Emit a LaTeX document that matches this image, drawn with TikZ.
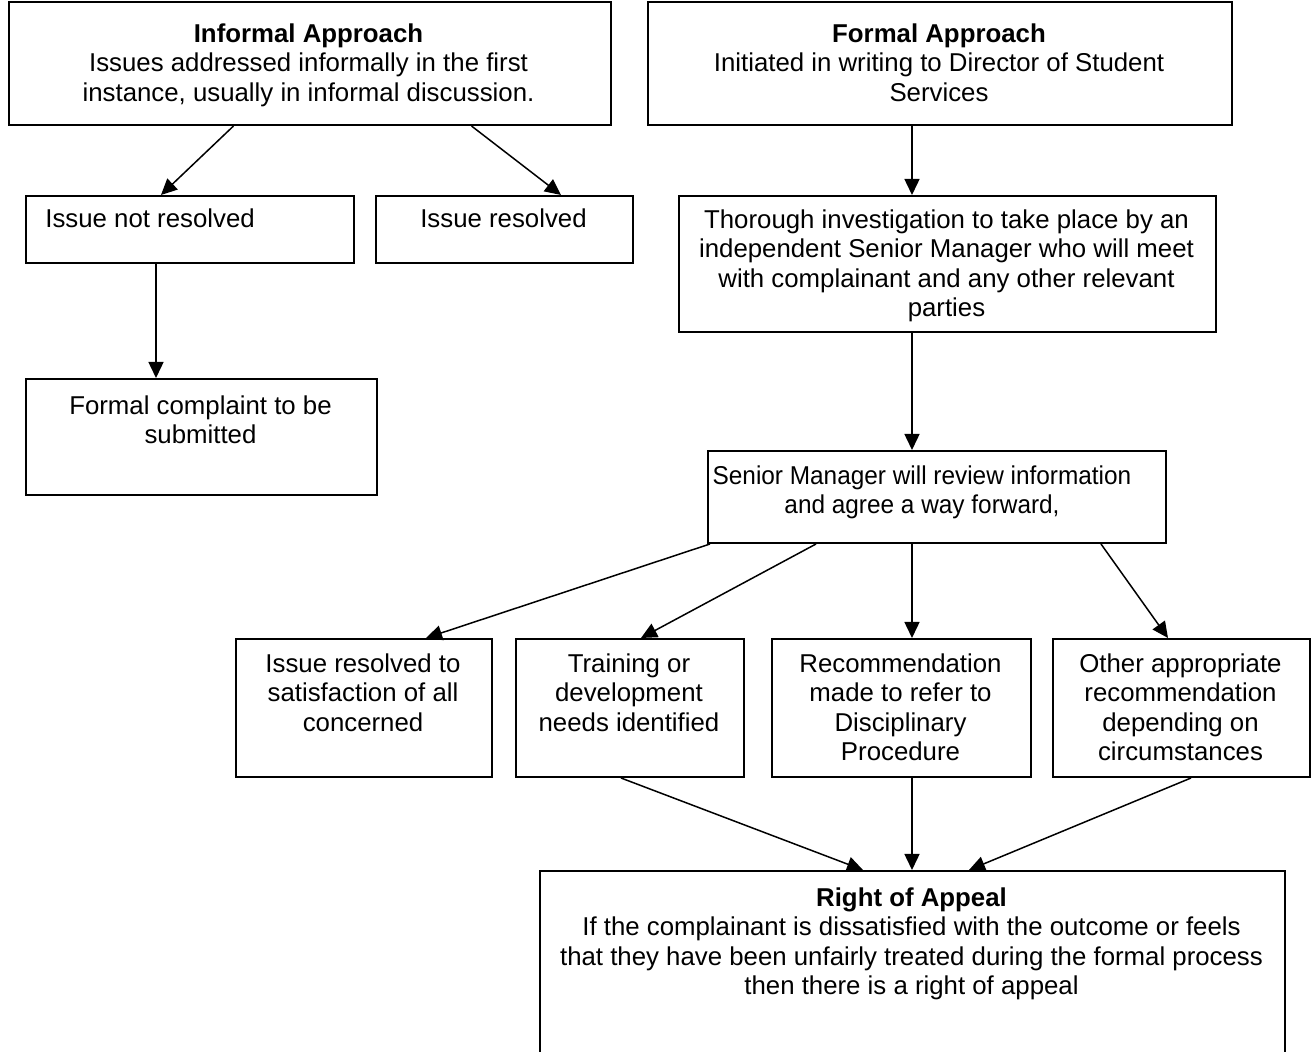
\documentclass[tikz,border=0pt]{standalone}
\usepackage{fontspec}
\setmainfont{Liberation Sans}
\newfontfamily\narrowsf[FakeStretch=0.945]{Liberation Sans}
\usetikzlibrary{arrows.meta}
\begin{document}
\begin{tikzpicture}[x=0.5pt,y=-0.5pt,
  box/.style={draw=black, line width=1pt, inner sep=0pt, anchor=north west},
  txt/.style={inner sep=0pt, anchor=north, align=center, font=\fontsize{12.9}{14.8}\selectfont},
  arr/.style={line width=0.75pt, -{Triangle[length=8pt,width=7.5pt]}}]
\clip (0,0) rectangle (1314,1052);
\fill[white] (0,0) rectangle (1314,1052);
% boxes
\node[box, minimum width=301pt, minimum height=61.5pt] (inf) at (8,1) {};
\node[box, minimum width=292pt, minimum height=61.5pt] (for) at (647,1) {};
\node[box, minimum width=164pt, minimum height=33.5pt] (nres) at (25,195) {};
\node[box, minimum width=128.5pt, minimum height=33.5pt] (res) at (375,195) {};
\node[box, minimum width=268.5pt, minimum height=68pt] (thor) at (678,195) {};
\node[box, minimum width=175.5pt, minimum height=58pt] (fc) at (25,378) {};
\node[box, minimum width=229pt, minimum height=46pt] (rev) at (707,450) {};
\node[box, minimum width=128pt, minimum height=69pt] (ra) at (235,638) {};
\node[box, minimum width=114pt, minimum height=69pt] (rb) at (515,638) {};
\node[box, minimum width=129.5pt, minimum height=69pt] (rc) at (771,638) {};
\node[box, minimum width=128.5pt, minimum height=69pt] (rd) at (1052,638) {};
\node[box, minimum width=372.5pt, minimum height=100pt] (app) at (539,870) {};
% texts
\node[txt] (tinf) at (308.5,23) {\textbf{Informal Approach}\\Issues addressed informally in the first\\instance, usually in informal discussion.};
\node[txt] (tfor) at (939,23) {\textbf{Formal Approach}\\Initiated in writing to Director of Student\\Services};
\node[txt, anchor=north west, align=left] (tnres) at (45,208) {Issue not resolved};
\node[txt] (tres) at (503.5,208) {Issue resolved};
\node[txt] (tthor) at (946.5,209) {Thorough investigation to take place by an\\independent Senior Manager who will meet\\with complainant and any other relevant\\parties};
\node[txt] (tfc) at (200.5,395) {Formal complaint to be\\submitted};
\node[txt, font=\narrowsf\fontsize{12.9}{14.8}\selectfont] (trev) at (922,465) {Senior Manager will review information\\and agree a way forward,};
\node[txt] (tra) at (363,653) {Issue resolved to\\satisfaction of all\\concerned};
\node[txt] (trb) at (629,653) {Training or\\development\\needs identified};
\node[txt] (trc) at (900.5,653) {Recommendation\\made to refer to\\Disciplinary\\Procedure};
\node[txt] (trd) at (1180.5,653) {Other appropriate\\recommendation\\depending on\\circumstances};
\node[txt] (tapp) at (911.5,887) {\textbf{Right of Appeal}\\If the complainant is dissatisfied with the outcome or feels\\that they have been unfairly treated during the formal process\\then there is a right of appeal};
% arrows
\draw[arr] ([xshift=-38.25pt]inf.south) -- ([xshift=-14.5pt]nres.north);
\draw[arr] ([xshift=80.75pt]inf.south) -- ([xshift=28.25pt]res.north);
\draw[arr] ([xshift=-17pt]nres.south) -- ([xshift=-22.75pt]fc.north);
\draw[arr] ([xshift=-14pt]for.south) -- ([xshift=-17.75pt]thor.north);
\draw[arr] ([xshift=-17.75pt]thor.south) -- ([xshift=-12.5pt]rev.north);
\draw[arr] ([xshift=-113.5pt]rev.south) -- ([xshift=31pt]ra.north);
\draw[arr] ([xshift=-60.5pt]rev.south) -- ([xshift=5.5pt]rb.north);
\draw[arr] ([xshift=-12.5pt]rev.south) -- ([xshift=5.25pt]rc.north);
\draw[arr] ([xshift=82pt]rev.south) -- ([xshift=-6.75pt]rd.north);
\draw[arr] ([xshift=-4.5pt]rb.south) -- ([xshift=-24.75pt]app.north);
\draw[arr] ([xshift=5.25pt]rc.south) -- ([xshift=-0.25pt]app.north);
\draw[arr] ([xshift=4.75pt]rd.south) -- ([xshift=28.25pt]app.north);
\end{tikzpicture}
\end{document}
